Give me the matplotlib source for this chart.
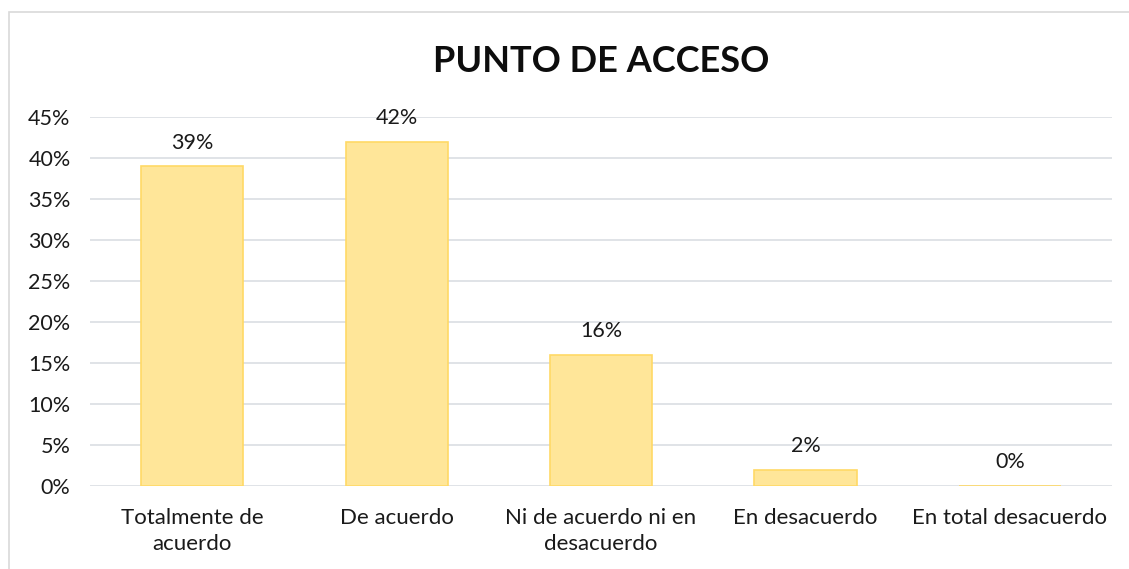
import matplotlib
matplotlib.use("Agg")
import matplotlib.pyplot as plt
from matplotlib.patches import Rectangle

categories = ["Totalmente de\nacuerdo", "De acuerdo", "Ni de acuerdo ni en\ndesacuerdo",
              "En desacuerdo", "En total desacuerdo"]
values = [0.39, 0.42, 0.16, 0.02, 0.0]
labels = ["39%", "42%", "16%", "2%", "0%"]
yticks = [0, 0.05, 0.10, 0.15, 0.20, 0.25, 0.30, 0.35, 0.40, 0.45]
yticklabels = ["0%", "5%", "10%", "15%", "20%", "25%", "30%", "35%", "40%", "45%"]

plt.rcParams['font.family'] = ['Lato', 'DejaVu Sans']

W, H = 1129, 569
fig = plt.figure(figsize=(W/100, H/100), dpi=100)
fig.patches.append(Rectangle((9/W, -0.1), 1.5, 1 - 12/H + 0.1, transform=fig.transFigure,
                             fill=False, edgecolor="#D9D9D9", linewidth=1.2))

ax = fig.add_axes([90/W, 1 - 486/H, (1112-90)/W, (486-117)/H])
x = range(len(categories))
ax.bar(x, values, width=0.5, color="#FFE699", edgecolor="#FFD966", linewidth=1.2, zorder=3)
for xi, v, lab in zip(x, values, labels):
    ax.annotate(lab, (xi, v), xytext=(0, 17), textcoords="offset points",
                ha="center", va="center", fontsize=15.5, color="#1a1a1a")

ax.set_xlim(-0.5, len(categories) - 0.5)
ax.set_ylim(0, 0.45)
ax.set_yticks(yticks)
ax.set_yticklabels(yticklabels, fontsize=15.5, color="#1a1a1a")
ax.set_xticks(list(x))
ax.set_xticklabels(categories, fontsize=16, color="#1a1a1a", linespacing=1.38)
ax.tick_params(axis="both", length=0)
ax.tick_params(axis="y", pad=14)
ax.tick_params(axis="x", pad=16)
ax.grid(axis="y", color="#DDE0E5", linewidth=1.3, zorder=0)
for s in ax.spines.values():
    s.set_visible(False)

fig.text((90+1112)/2/W, 1 - 62/H, "PUNTO DE ACCESO", ha="center", va="center",
         fontsize=26, fontweight="bold", color="#0d0d0d")

fig.savefig("out.png", dpi=100)
